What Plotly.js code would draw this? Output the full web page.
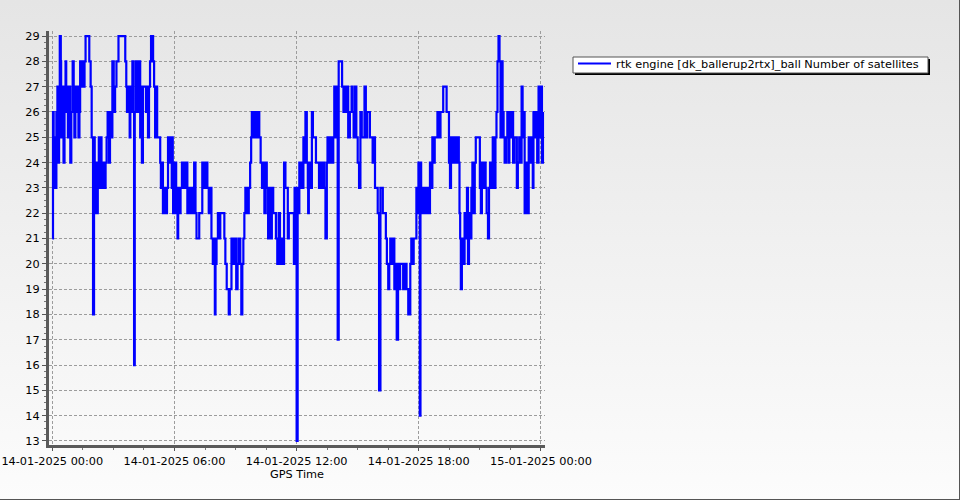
<!DOCTYPE html>
<html><head><meta charset="utf-8">
<script src="https://cdn.plot.ly/plotly-3.0.1.min.js"></script>
<style>
html,body{margin:0;padding:0;}
body{width:960px;height:500px;overflow:hidden;}
#wrap{position:relative;width:960px;height:500px;background:linear-gradient(#e5e5e5,#fcfcfc);box-shadow:inset -1px -1px 0 #555;}
#chart{width:960px;height:500px;}
</style></head><body><div id="wrap"><div id="chart"></div></div>
<script>
const seriesName = 'rtk engine [dk_ballerup2rtx]_ball Number of satellites';
const startDay = [2025, 0, 14];
const xTitle = 'GPS Time';

// minutes after 14-01-2025 00:00
const minuteOffsets = [
  0,2,4,6,8,12,15,17,20,22, 25,26,28,30,33,36,39,41,43,46,
  50,53,56,60,63,65,68,71,74,77, 80,82,85,88,91,95,98,109,113,116,
  120,123,125,128,134,137,139,142,145,148, 151,154,157,160,163,167,170,173,177,181,
  185,189,195,215,218,220,224,228,230,233, 236,238,241,243,245,248,250,253,256,259,
  261,264,267,276,279,282,285,288,291,297, 300,303,306,309,318,320,323,326,330,334,
  338,341,344,348,352,
  353,355,356,361,365,369,371,374,378,382, 387,392,398,402,407,410,414,418,422,425,
  433,442,446,451,457,461,466,469,473,477, 479,481,484,488,492,495,507,510,514,520,
  523,528,533,536,542,546,549,554,557,560, 563,566,569,574,579,583,586,588,592,596,
  600,604,610,614,618,622,625,629,632,636, 640,644,647,651,659,663,667,671,675,679,
  683,687,694,697,712,714,718,
  715,718,720,723,725,728,731,734,737,740, 743,746,750,753,754,756,759,762,765,768,
  777,786,790,794,798,802,805,809,811,815, 818,823,828,831,834,838,841,844,854,858,
  861,864,868,872,877,882,885,888,892,896, 900,904,908,912,920,924,928,936,944,947,
  951,959,963,967,974,983,986,990,993,996, 1000,1005,1008,1012,1015,1019,1022,1025,1034,1039,
  1044,1049,1055,1058,1061,1065,1073,1076,1079,1083, 1085,
  1087,1090,1092,1095,1099,1102,1107,1110,1113,1117, 1120,1123,1127,1135,1139,1144,1152,1162,1169,1172,
  1175,1179,1182,1185,1189,1192,1195,1198,1200,1202, 1204,1207,1211,1215,1218,1222,1225,1228,1231,1235,
  1238,1241,1245,1248,1260,1263,1266,1270,1273,1277, 1280,1284,1287,1290,1294,1298,1301,1304,1306,1309,
  1312,1315,1318,1321,1324,1327,1330,1333,1337,1341, 1344,1347,1351,1354,1358,1362,1369,1372,1376,1379,
  1383,1386,1389,1392,1396,1400,1404,1408,1412,1416, 1418,1421,1425,1429,1433,1437,1440,1443,1446
];

const satelliteCounts = [
  21,26,24,25,23,26,27,24,27,29, 28,25,27,26,24,27,28,26,27,25,
  27,24,26,28,26,25,27,26,27,25, 26,28,27,28,27,28,29,28,27,25,
  18,25,24,22,24,25,23,25,24,23, 24,23,24,25,26,24,26,25,28,26,
  27,28,29,28,27,26,27,25,27,26, 28,26,16,26,28,26,28,26,28,25,
  27,24,27,26,27,25,27,28,29,28, 27,25,27,25,24,23,24,22,23,22,
  23,25,24,25,23,
  25,23,22,24,22,21,23,22,23,24, 23,24,22,23,22,23,22,24,22,21,
  22,24,23,24,23,22,23,21,20,21, 18,20,21,22,21,22,21,20,19,18,
  19,21,20,21,19,20,21,20,18,20, 21,22,23,22,23,24,25,26,25,26,
  25,26,25,24,23,24,22,24,23,21, 23,21,23,22,21,20,22,20,21,20,
  24,23,21,22,20,23,21,
  20,22,13,23,22,24,23,24,23,25, 24,26,24,23,22,23,24,23,26,25,
  24,23,24,23,24,23,21,24,25,24, 25,24,25,27,25,27,17,28,27,26,
  27,26,27,25,26,27,26,25,27,25, 24,23,26,25,27,25,26,25,24,25,
  23,22,15,23,22,21,20,19,20,21, 20,21,19,20,17,20,19,20,19,20,
  19,18,20,21,20,21,23,22,24,14, 24,
  23,22,23,22,23,22,23,22,24,23, 25,24,25,26,25,26,27,26,24,23,
  25,24,25,24,25,24,25,24,22,21, 19,21,20,22,21,23,20,22,21,23,
  24,22,24,25,23,22,24,23,24,23, 22,21,23,24,23,25,24,23,25,26,
  28,29,28,25,28,26,25,24,25,26, 24,26,25,26,24,25,23,24,25,24,
  27,25,26,22,24,22,25,24,25,23, 26,25,26,24,27,25,27,24,26
];

const yTickValues = [13,14,15,16,17,18,19,20,21,22,23,24,25,26,27,28,29];
const xTickValues = ['2025-01-14 00:00','2025-01-14 06:00','2025-01-14 12:00','2025-01-14 18:00','2025-01-15 00:00'];

const base = Date.UTC(startDay[0], startDay[1], startDay[2]);
const toStamp = m => new Date(base + m * 60000).toISOString().slice(0, 19).replace('T', ' ');
const xs = minuteOffsets.map(toStamp);

const trace = {
  type: 'scatter', mode: 'lines', name: seriesName,
  x: xs, y: satelliteCounts,
  line: {color: '#0000ff', width: 2.2, shape: 'hv'},
  showlegend: true
};

const fontFam = 'DejaVu Sans, Verdana, sans-serif';
const L = 49, R = 545, T = 31, B = 445;
const px2paperX = p => (p - L) / (R - L);
const px2paperY = p => (B - p) / (B - T);

const layout = {
  width: 960, height: 500,
  paper_bgcolor: 'rgba(0,0,0,0)', plot_bgcolor: 'rgba(0,0,0,0)',
  margin: {l: L, r: 960 - R, t: T, b: 500 - B, pad: 0},
  font: {family: fontFam, size: 11.3, color: '#000'},
  showlegend: true,
  legend: {
    xref: 'container', yref: 'container',
    x: 573 / 960, y: 1 - 49 / 500, xanchor: 'left', yanchor: 'top',
    bgcolor: 'rgba(0,0,0,0)', borderwidth: 0,
    font: {family: fontFam, size: 11.3, color: '#000'},
    itemwidth: 33
  },
  xaxis: {
    type: 'date',
    range: ['2025-01-13 23:50:15', '2025-01-15 00:12:00'],
    tickvals: xTickValues,
    tickformat: '%d-%m-%Y %H:%M',
    showgrid: true, gridcolor: '#9c9c9c', gridwidth: 1, griddash: '3px,2px',
    showline: true, linecolor: '#5a5a5a', linewidth: 3,
    ticks: 'outside', ticklen: 3, tickcolor: '#555', tickwidth: 1,
    minor: {dtick: 5400000, tick0: '2025-01-14 00:00', ticks: 'outside', ticklen: 2, tickcolor: '#777', showgrid: false},
    zeroline: false,
    tickfont: {family: fontFam, size: 11.3, color: '#000'},
    title: {text: xTitle, font: {family: fontFam, size: 11.3, color: '#000'}, standoff: 1}
  },
  yaxis: {
    range: [12.84, 29.2],
    tickvals: yTickValues,
    showgrid: true, gridcolor: '#9c9c9c', gridwidth: 1, griddash: '3px,2px',
    showline: true, linecolor: '#5a5a5a', linewidth: 3,
    ticks: 'outside', ticklen: 4, tickcolor: '#555', tickwidth: 1,
    minor: {dtick: 0.25, tick0: 13, ticks: 'outside', ticklen: 2, tickcolor: '#777', showgrid: false},
    zeroline: false,
    tickfont: {family: fontFam, size: 11.3, color: '#000'}
  },
  shapes: [
    {type: 'rect', xref: 'paper', yref: 'paper', layer: 'below',
     x0: px2paperX(575), x1: px2paperX(930), y0: px2paperY(75), y1: px2paperY(59),
     fillcolor: '#000', line: {width: 0}},
    {type: 'rect', xref: 'paper', yref: 'paper', layer: 'below',
     x0: px2paperX(573), x1: px2paperX(928), y0: px2paperY(73), y1: px2paperY(57),
     fillcolor: '#fff', line: {width: 1, color: '#555'}}
  ]
};

Plotly.newPlot('chart', [trace], layout, {staticPlot: true, displayModeBar: false});
</script>
</body></html>
